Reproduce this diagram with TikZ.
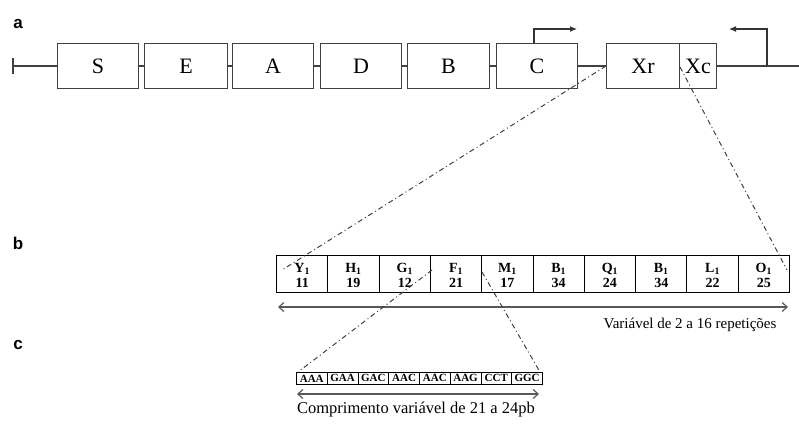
\documentclass[tikz,border=0pt]{standalone}
\usepackage{fontspec}
\setmainfont{Liberation Serif}
\newfontfamily\labfont{Liberation Sans}
\usetikzlibrary{arrows.meta,positioning}
\begin{document}
\begin{tikzpicture}[x=1pt,y=-1pt,
  gene/.style={draw=black!75,line width=1.1pt,minimum width=#1,minimum height=45pt,inner sep=0pt,anchor=west,font=\fontsize{22}{22}\selectfont},
  gene/.default=81pt,
  rep/.style={draw=black,line width=1pt,minimum width=51.3pt,minimum height=37pt,inner sep=0pt,anchor=north west},
  reptxt/.style={inner sep=0pt,anchor=base,font=\bfseries\fontsize{14}{14}\selectfont},
  cod/.style={draw=black,line width=0.8pt,minimum width=30.75pt,minimum height=12pt,inner sep=0pt,anchor=north west,font=\bfseries\fontsize{11}{11}\selectfont},
  bb/.style={draw=black!75,line width=1.1pt},
  dd/.style={draw=black!75,line width=1pt,dash pattern=on 5pt off 3pt on 1pt off 3pt},
  span/.style={draw=black!65,line width=1.2pt,{Straight Barb[length=5pt,width=9pt]}-{Straight Barb[length=5pt,width=9pt]}},
  prom/.style={draw=black!80,line width=1.1pt,-{Latex[length=7pt,width=6pt]}},
  lab/.style={font=\labfont\bfseries\fontsize{17}{17}\selectfont,inner sep=0pt}
]
\useasboundingbox (0,0) rectangle (799,428);
% labels
\node[lab] (la) at (18,24) {a};
\node[lab] (lb) at (18,243) {b};
\node[lab] (lc) at (18,345) {c};
% genes
\node[gene] (S) at (57,66) {S};
\node[gene=83pt] (E) at (144,66) {E};
\node[gene] (A) at (232,66) {A};
\node[gene] (D) at (320,66) {D};
\node[gene=82pt] (B) at (407,66) {B};
\node[gene] (C) at (496,66) {C};
\node[gene=73pt] (Xr) at (606,66) {Xr};
\node[gene=37pt] (Xc) at (679,66) {Xc};
% backbone
\coordinate (lend) at (13,66);
\coordinate (rend) at (799,66);
\draw[bb] (13,58) -- (13,74);
\draw[bb] (lend) -- (S.west);
\draw[bb] (S.east) -- (E.west);
\draw[bb] (E.east) -- (A.west);
\draw[bb] (A.east) -- (D.west);
\draw[bb] (D.east) -- (B.west);
\draw[bb] (B.east) -- (C.west);
\draw[bb] (C.east) -- (Xr.west);
\draw[bb] (Xc.east) -- (rend);
% promoters
\coordinate (p1) at (534,43.5);
\coordinate (p1e) at (577,29);
\draw[prom] (p1) |- (p1e);
\coordinate (p2) at (767,66);
\coordinate (p2e) at (729,29);
\draw[prom] (p2) |- (p2e);
% repeats
\foreach \n/\l/\v [count=\i from 0] in {r1/Y/11,r2/H/19,r3/G/12,r4/F/21,r5/M/17,r6/B/34,r7/Q/24,r8/B/34,r9/L/22,r10/O/25}{
  \node[rep] (\n) at ({276+51.3*\i},255) {};
  \node[reptxt] (\n l) at ([yshift=1.8pt]\n.center) {\l\textsubscript{1}};
  \node[reptxt] (\n v) at ([yshift=-13pt]\n.center) {\v};
}
\coordinate (sbl) at (278,307);
\coordinate (sbr) at (788,307);
\draw[span] (sbl) -- (sbr);
\node[font=\fontsize{15}{15}\selectfont] (vtxt) at (690,325) {Variável de 2 a 16 repetições};
% codons
\foreach \n/\t [count=\i from 0] in {c1/AAA,c2/GAA,c3/GAC,c4/AAC,c5/AAC,c6/AAG,c7/CCT,c8/GGC}{
  \node[cod] (\n) at ({296+30.75*\i},372) {\t};
}
\coordinate (scl) at (297,394);
\coordinate (scr) at (539,394);
\draw[span] (scl) -- (scr);
\node[font=\fontsize{16.5}{16.5}\selectfont] (ctxt) at (416,410) {Comprimento variável de 21 a 24pb};
% zoom lines
\coordinate (z1) at (282,270);
\coordinate (z2) at (680,67);
\coordinate (z3) at (787,270);
\coordinate (z4) at (432,270);
\coordinate (z5) at (298,372);
\coordinate (z6) at (482,272);
\coordinate (z7) at (540,372);
\draw[dd] (Xr.west) -- (z1);
\draw[dd] (z2) -- (z3);
\draw[dd] (z4) -- (z5);
\draw[dd] (z6) -- (z7);
\end{tikzpicture}
\end{document}
